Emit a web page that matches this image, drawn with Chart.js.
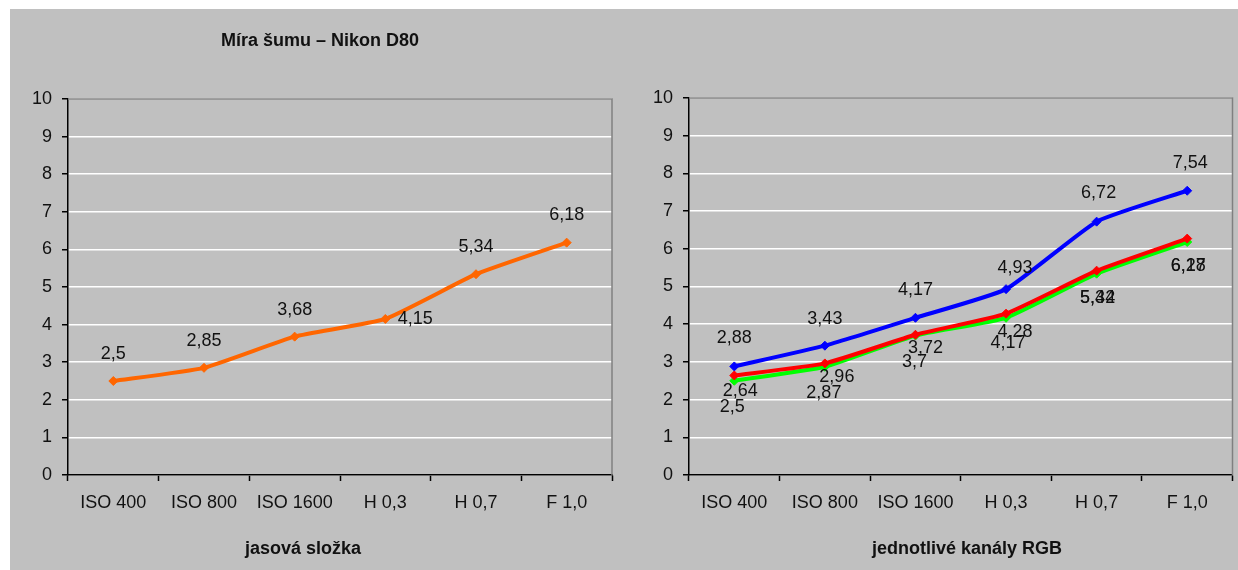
<!DOCTYPE html>
<html>
<head>
<meta charset="utf-8">
<script src="https://cdn.jsdelivr.net/npm/chart.js@4.4.1/dist/chart.umd.min.js"></script>
<style>
  html, body { margin: 0; padding: 0; background: #ffffff; }
  #panel { position: absolute; left: 10px; top: 9px; width: 1228px; height: 561px; background: #c0c0c0; overflow: hidden; }
  #panel canvas { position: absolute; top: 0; }
  #lum { left: 0; }
  #rgb { left: 610px; }
</style>
</head>
<body>
<div id="panel">
  <canvas id="lum" width="610" height="561"></canvas>
  <canvas id="rgb" width="618" height="561"></canvas>
</div>
<script>
// Categories along the x axis (shared by both charts)
const categories = ['ISO 400', 'ISO 800', 'ISO 1600', 'H 0,3', 'H 0,7', 'F 1,0'];

// Luminance noise
const luminance = [2.5, 2.85, 3.68, 4.15, 5.34, 6.18];

// Per-channel noise
const blueChannel  = [2.88, 3.43, 4.17, 4.93, 6.72, 7.54];
const redChannel   = [2.64, 2.96, 3.72, 4.28, 5.42, 6.27];
const greenChannel = [2.5, 2.87, 3.7, 4.17, 5.34, 6.18];

// Value axis range
const yMin = 0;
const yMax = 10;
const yStep = 1;

// Texts
const chartTitle = 'Míra šumu – Nikon D80';
const lumAxisTitle = 'jasová složka';
const rgbAxisTitle = 'jednotlivé kanály RGB';

// Where each value label sits relative to its point [dx, dy]
const lumLabelPlacement   = [[0,-27],[0,-27],[0,-27],[30,0],[0,-27],[0,-28]];
const blueLabelPlacement  = [[0,-28],[0,-27],[0,-28],[9,-21],[2,-29],[3,-28]];
const redLabelPlacement   = [[6,16],[12,14],[10,13],[9,18],[1,27],[1,27]];
const greenLabelPlacement = [[-2,26],[-1,26],[-1,27],[2,25],[1,24],[1,24]];

const FONT = '"Liberation Sans", Arial, sans-serif';
const TEXT_COLOR = '#111111';

// Draws the grey frame of the plot area, the value labels and the free texts
const panelDecor = {
  id: 'panelDecor',
  beforeDatasetsDraw(chart) {
    const { ctx, chartArea: a } = chart;
    ctx.save();
    ctx.strokeStyle = '#808080';
    ctx.lineWidth = 1.5;
    ctx.beginPath();
    ctx.moveTo(a.left, a.top);
    ctx.lineTo(a.right, a.top);
    ctx.lineTo(a.right, a.bottom);
    ctx.stroke();
    ctx.restore();
  },
  afterDatasetsDraw(chart, args, opts) {
    const ctx = chart.ctx;
    ctx.save();
    ctx.font = '18px ' + FONT;
    ctx.fillStyle = TEXT_COLOR;
    ctx.textAlign = 'center';
    ctx.textBaseline = 'middle';
    chart.data.datasets.forEach((ds, i) => {
      const meta = chart.getDatasetMeta(i);
      const place = opts.placement[i];
      meta.data.forEach((pt, j) => {
        const [dx, dy] = place[j];
        ctx.fillText(String(ds.data[j]).replace('.', ','), pt.x + dx, pt.y + dy);
      });
    });
    (opts.texts || []).forEach(t => {
      ctx.font = 'bold 18px ' + FONT;
      ctx.fillText(t.text, t.x, t.y);
    });
    ctx.restore();
  }
};

function lineDataset(label, data, color) {
  return {
    label,
    data,
    borderColor: color,
    backgroundColor: color,
    borderWidth: 4,
    pointStyle: 'rectRot',
    pointRadius: 4.5,
    pointBorderWidth: 1,
    pointBackgroundColor: color,
    pointBorderColor: color,
    tension: 0.15,
    fill: false
  };
}

function buildOptions(plotLeft, plotTop, plotRight, decor) {
  return {
    responsive: false,
    animation: false,
    events: [],
    layout: { padding: { top: plotTop, right: plotRight, bottom: 0, left: 0 } },
    plugins: {
      legend: { display: false },
      title: { display: false },
      tooltip: { enabled: false },
      panelDecor: decor
    },
    scales: {
      x: {
        type: 'category',
        offset: true,
        afterFit(scale) { scale.height = 95; },
        grid: {
          offset: true,
          drawOnChartArea: false,
          drawTicks: true,
          tickLength: 6,
          tickColor: '#000000',
          tickWidth: 1.5
        },
        border: { display: true, color: '#000000', width: 1.5 },
        ticks: {
          padding: 11,
          maxRotation: 0,
          autoSkip: false,
          color: TEXT_COLOR,
          font: { family: FONT, size: 18 }
        }
      },
      y: {
        min: yMin,
        max: yMax,
        afterFit(scale) { scale.width = plotLeft; },
        grid: {
          color: '#ffffff',
          lineWidth: 1.5,
          drawTicks: true,
          tickLength: 6,
          tickColor: '#000000',
          tickWidth: 1.5
        },
        border: { display: true, color: '#000000', width: 1.5 },
        ticks: {
          stepSize: yStep,
          padding: 10,
          color: TEXT_COLOR,
          font: { family: FONT, size: 18 }
        }
      }
    }
  };
}

new Chart(document.getElementById('lum'), {
  type: 'line',
  data: {
    labels: categories,
    datasets: [lineDataset('jasová složka', luminance, '#ff6600')]
  },
  options: buildOptions(58, 90, 8, {
    placement: [lumLabelPlacement],
    texts: [
      { text: chartTitle, x: 310, y: 32 },
      { text: lumAxisTitle, x: 293, y: 540 }
    ]
  }),
  plugins: [panelDecor]
});

new Chart(document.getElementById('rgb'), {
  type: 'line',
  data: {
    labels: categories,
    datasets: [
      lineDataset('B', blueChannel, '#0000ff'),
      lineDataset('R', redChannel, '#ff0000'),
      lineDataset('G', greenChannel, '#00ff00')
    ]
  },
  options: buildOptions(69, 89, 5, {
    placement: [blueLabelPlacement, redLabelPlacement, greenLabelPlacement],
    texts: [
      { text: rgbAxisTitle, x: 347, y: 540 }
    ]
  }),
  plugins: [panelDecor]
});
</script>
</body>
</html>
